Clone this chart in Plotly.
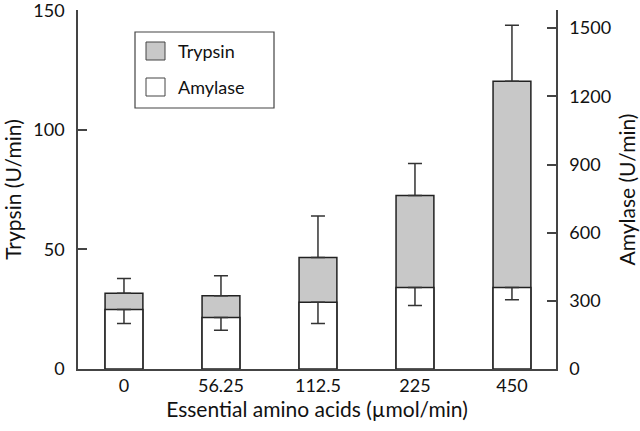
import plotly.graph_objects as go

categories = ["0", "56.25", "112.5", "225", "450"]
trypsin = [31.7, 30.6, 46.6, 72.6, 120.4]
trypsin_err = [6.2, 8.4, 17.4, 13.4, 23.4]
amylase = [262, 227, 294, 359, 359]
amylase_err = [62, 57, 94, 80, 54]

xpos = list(range(len(categories)))
FONT = "Lato"
L, R, T, B = 78, 84, 10, 62
PW, PH = 640 - L - R, 431 - T - B

fig = go.Figure()
fig.add_trace(go.Bar(
    x=xpos, y=trypsin, name="Trypsin", width=0.39, showlegend=False,
    marker=dict(color="#c8c8c8", line=dict(color="#222", width=1.5)),
    error_y=dict(type="data", array=trypsin_err, arrayminus=[0]*5, symmetric=False,
                 color="#333", thickness=1.5, width=7),
    yaxis="y"))
fig.add_trace(go.Bar(
    x=xpos, y=amylase, name="Amylase", width=0.39, showlegend=False,
    marker=dict(color="white", line=dict(color="#222", width=1.5)),
    error_y=dict(type="data", array=[0]*5, arrayminus=amylase_err, symmetric=False,
                 color="#333", thickness=1.5, width=7),
    yaxis="y2"))

def px2x(px):
    return (px - L) / PW

def px2y(py):
    return 1 - (py - T) / PH

shapes = [
    dict(type="rect", xref="paper", yref="paper", x0=px2x(135), x1=px2x(274),
         y0=px2y(108), y1=px2y(32), line=dict(color="#444", width=1.2), fillcolor="white"),
    dict(type="rect", xref="paper", yref="paper", x0=px2x(146), x1=px2x(165),
         y0=px2y(60), y1=px2y(42), line=dict(color="#444", width=1), fillcolor="#c8c8c8"),
    dict(type="rect", xref="paper", yref="paper", x0=px2x(146), x1=px2x(165),
         y0=px2y(96), y1=px2y(78), line=dict(color="#444", width=1), fillcolor="white"),
]
annotations = [
    dict(text="Trypsin", xref="paper", yref="paper", x=px2x(176), y=px2y(51),
         xanchor="left", yanchor="middle", showarrow=False, font=dict(size=18)),
    dict(text="Amylase", xref="paper", yref="paper", x=px2x(176), y=px2y(87),
         xanchor="left", yanchor="middle", showarrow=False, font=dict(size=18)),
]

TITLE_FONT = dict(family=FONT, size=21, color="#111")

fig.update_layout(
    width=640, height=431,
    margin=dict(l=L, r=R, t=T, b=B),
    paper_bgcolor="white", plot_bgcolor="white",
    barmode="overlay",
    font=dict(family=FONT, size=18, color="#111"),
    showlegend=False,
    shapes=shapes, annotations=annotations,
    xaxis=dict(range=[-0.474, 4.454], tickmode="array", tickvals=xpos,
               ticktext=categories, showline=True, linecolor="#444", linewidth=1.5,
               ticks="", showgrid=False, zeroline=False, automargin=False,
               title=dict(text="Essential amino acids (µmol/min)", standoff=5,
                          font=TITLE_FONT)),
    yaxis=dict(range=[0, 150.2], tickvals=[0, 50, 100, 150], showline=True,
               linecolor="#444", linewidth=1.5, ticks="inside", ticklen=9,
               tickcolor="#444", tickwidth=1.5, showgrid=False, zeroline=False,
               ticklabelstandoff=8, automargin=False, ticklabeloverflow="allow",
               title=dict(text="Trypsin (U/min)", standoff=15, font=TITLE_FONT)),
    yaxis2=dict(range=[0, 1580], tickvals=[0, 300, 600, 900, 1200, 1500],
                overlaying="y", side="right", showline=True, linecolor="#444",
                linewidth=1.5, ticks="inside", ticklen=9, tickcolor="#444",
                tickwidth=1.5, showgrid=False, zeroline=False,
                ticklabelstandoff=8, automargin=False, ticklabeloverflow="allow",
                title=dict(text="Amylase (U/min)", standoff=10, font=TITLE_FONT)),
)

fig.write_html("out.html", config={"displayModeBar": False},
               post_script="document.body.style.margin='0';")
